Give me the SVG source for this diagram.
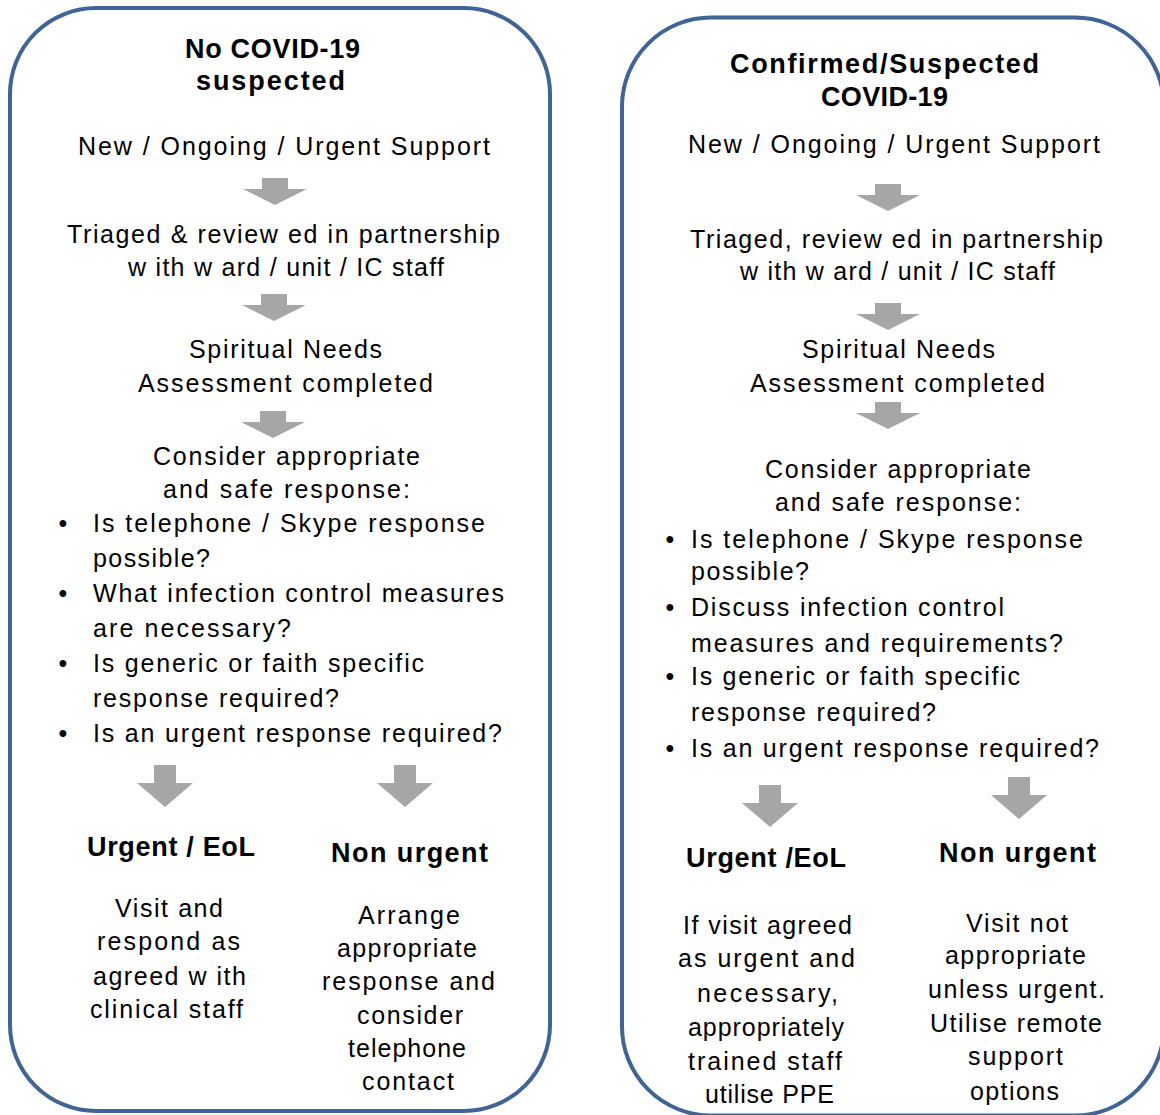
<svg xmlns="http://www.w3.org/2000/svg" xmlns:xlink="http://www.w3.org/1999/xlink" width="1160" height="1115" viewBox="0 0 1160 1115">
<style>
.t{font-family:"Liberation Sans",Arial,sans-serif;font-size:25px;fill:#000}
.b{font-weight:bold;font-size:27px}
.panel{fill:#fff;stroke:#3F6495;stroke-width:4}
.arrow{fill:#A6A6A6}
</style>
<defs>
<path id="arrowS" d="M-13,0 H13 V11 H32 L0,27 L-32,11 H-13 Z"/>
<path id="arrowL" d="M-11,0 H11 V18 H28 L0,42 L-28,18 H-11 Z"/>
</defs>
<rect width="1160" height="1115" fill="#fff"/>

<g id="panel-no-covid">
<rect class="panel" x="10" y="8" width="540" height="1103" rx="86" ry="86"/>
</g>
<g id="panel-covid">
<rect class="panel" x="622" y="17.5" width="542" height="1098" rx="89" ry="89"/>
</g>

<g id="connectors">
<use href="#arrowS" class="arrow" x="275" y="178"/>
<use href="#arrowS" class="arrow" x="274" y="294"/>
<use href="#arrowS" class="arrow" x="273" y="411"/>
<use href="#arrowL" class="arrow" x="165" y="765"/>
<use href="#arrowL" class="arrow" x="405" y="765"/>
<use href="#arrowS" class="arrow" x="888" y="184"/>
<use href="#arrowS" class="arrow" x="888" y="303"/>
<use href="#arrowS" class="arrow" x="888" y="402"/>
<use href="#arrowL" class="arrow" x="770" y="785"/>
<use href="#arrowL" class="arrow" x="1019" y="777"/>
</g>

<g id="left-title">
<text class="t b" x="185" y="58" textLength="175" lengthAdjust="spacing">No COVID-19</text>
<text class="t b" x="196" y="90" textLength="149" lengthAdjust="spacing">suspected</text>
</g>
<g id="left-support">
<text class="t" x="78" y="155" textLength="412" lengthAdjust="spacing">New / Ongoing / Urgent Support</text>
</g>
<g id="left-triaged">
<text class="t" x="67" y="243" textLength="433" lengthAdjust="spacing">Triaged &amp; review ed in partnership</text>
<text class="t" x="128" y="276" textLength="316" lengthAdjust="spacing">w ith w ard / unit / IC staff</text>
</g>
<g id="left-assessment">
<text class="t" x="189" y="358" textLength="193" lengthAdjust="spacing">Spiritual Needs</text>
<text class="t" x="138" y="392" textLength="295" lengthAdjust="spacing">Assessment completed</text>
</g>
<g id="left-consider">
<text class="t" x="153" y="465" textLength="267" lengthAdjust="spacing">Consider appropriate</text>
<text class="t" x="163" y="498" textLength="247" lengthAdjust="spacing">and safe response:</text>
<text class="t" x="63" y="532" text-anchor="middle">•</text>
<text class="t" x="93" y="532" textLength="392" lengthAdjust="spacing">Is telephone / Skype response</text>
<text class="t" x="93" y="567" textLength="117" lengthAdjust="spacing">possible?</text>
<text class="t" x="63" y="602" text-anchor="middle">•</text>
<text class="t" x="93" y="602" textLength="411" lengthAdjust="spacing">What infection control measures</text>
<text class="t" x="93" y="637" textLength="198" lengthAdjust="spacing">are necessary?</text>
<text class="t" x="63" y="672" text-anchor="middle">•</text>
<text class="t" x="93" y="672" textLength="331" lengthAdjust="spacing">Is generic or faith specific</text>
<text class="t" x="93" y="707" textLength="246" lengthAdjust="spacing">response required?</text>
<text class="t" x="63" y="742" text-anchor="middle">•</text>
<text class="t" x="93" y="742" textLength="409" lengthAdjust="spacing">Is an urgent response required?</text>
</g>
<g id="left-urgent">
<text class="t b" x="87" y="856" textLength="168" lengthAdjust="spacing">Urgent / EoL</text>
<text class="t" x="115" y="917" textLength="108" lengthAdjust="spacing">Visit and</text>
<text class="t" x="97" y="950" textLength="143" lengthAdjust="spacing">respond as</text>
<text class="t" x="93" y="985" textLength="153" lengthAdjust="spacing">agreed w ith</text>
<text class="t" x="90" y="1018" textLength="153" lengthAdjust="spacing">clinical staff</text>
</g>
<g id="left-non-urgent">
<text class="t b" x="331" y="862" textLength="157" lengthAdjust="spacing">Non urgent</text>
<text class="t" x="358" y="924" textLength="102" lengthAdjust="spacing">Arrange</text>
<text class="t" x="337" y="957" textLength="140" lengthAdjust="spacing">appropriate</text>
<text class="t" x="322" y="990" textLength="173" lengthAdjust="spacing">response and</text>
<text class="t" x="357" y="1024" textLength="106" lengthAdjust="spacing">consider</text>
<text class="t" x="348" y="1057" textLength="118" lengthAdjust="spacing">telephone</text>
<text class="t" x="362" y="1090" textLength="92" lengthAdjust="spacing">contact</text>
</g>

<g id="right-title">
<text class="t b" x="730" y="73" textLength="309" lengthAdjust="spacing">Confirmed/Suspected</text>
<text class="t b" x="821" y="106" textLength="127" lengthAdjust="spacing">COVID-19</text>
</g>
<g id="right-support">
<text class="t" x="688" y="153" textLength="412" lengthAdjust="spacing">New / Ongoing / Urgent Support</text>
</g>
<g id="right-triaged">
<text class="t" x="690" y="248" textLength="413" lengthAdjust="spacing">Triaged, review ed in partnership</text>
<text class="t" x="740" y="280" textLength="315" lengthAdjust="spacing">w ith w ard / unit / IC staff</text>
</g>
<g id="right-assessment">
<text class="t" x="802" y="358" textLength="193" lengthAdjust="spacing">Spiritual Needs</text>
<text class="t" x="750" y="392" textLength="295" lengthAdjust="spacing">Assessment completed</text>
</g>
<g id="right-consider">
<text class="t" x="765" y="478" textLength="266" lengthAdjust="spacing">Consider appropriate</text>
<text class="t" x="775" y="511" textLength="246" lengthAdjust="spacing">and safe response:</text>
<text class="t" x="670" y="548" text-anchor="middle">•</text>
<text class="t" x="691" y="548" textLength="392" lengthAdjust="spacing">Is telephone / Skype response</text>
<text class="t" x="691" y="580" textLength="118" lengthAdjust="spacing">possible?</text>
<text class="t" x="670" y="616" text-anchor="middle">•</text>
<text class="t" x="691" y="616" textLength="313" lengthAdjust="spacing">Discuss infection control</text>
<text class="t" x="691" y="652" textLength="372" lengthAdjust="spacing">measures and requirements?</text>
<text class="t" x="670" y="685" text-anchor="middle">•</text>
<text class="t" x="691" y="685" textLength="329" lengthAdjust="spacing">Is generic or faith specific</text>
<text class="t" x="691" y="721" textLength="245" lengthAdjust="spacing">response required?</text>
<text class="t" x="670" y="757" text-anchor="middle">•</text>
<text class="t" x="691" y="757" textLength="408" lengthAdjust="spacing">Is an urgent response required?</text>
</g>
<g id="right-urgent">
<text class="t b" x="686" y="867" textLength="160" lengthAdjust="spacing">Urgent /EoL</text>
<text class="t" x="683" y="934" textLength="169" lengthAdjust="spacing">If visit agreed</text>
<text class="t" x="678" y="967" textLength="177" lengthAdjust="spacing">as urgent and</text>
<text class="t" x="697" y="1002" textLength="141" lengthAdjust="spacing">necessary,</text>
<text class="t" x="688" y="1036" textLength="156" lengthAdjust="spacing">appropriately</text>
<text class="t" x="688" y="1070" textLength="154" lengthAdjust="spacing">trained staff</text>
<text class="t" x="705" y="1103" textLength="129" lengthAdjust="spacing">utilise PPE</text>
</g>
<g id="right-non-urgent">
<text class="t b" x="939" y="862" textLength="157" lengthAdjust="spacing">Non urgent</text>
<text class="t" x="966" y="932" textLength="102" lengthAdjust="spacing">Visit not</text>
<text class="t" x="945" y="964" textLength="141" lengthAdjust="spacing">appropriate</text>
<text class="t" x="928" y="998" textLength="177" lengthAdjust="spacing">unless urgent.</text>
<text class="t" x="930" y="1032" textLength="172" lengthAdjust="spacing">Utilise remote</text>
<text class="t" x="968" y="1065" textLength="95" lengthAdjust="spacing">support</text>
<text class="t" x="970" y="1100" textLength="89" lengthAdjust="spacing">options</text>
</g>
</svg>
